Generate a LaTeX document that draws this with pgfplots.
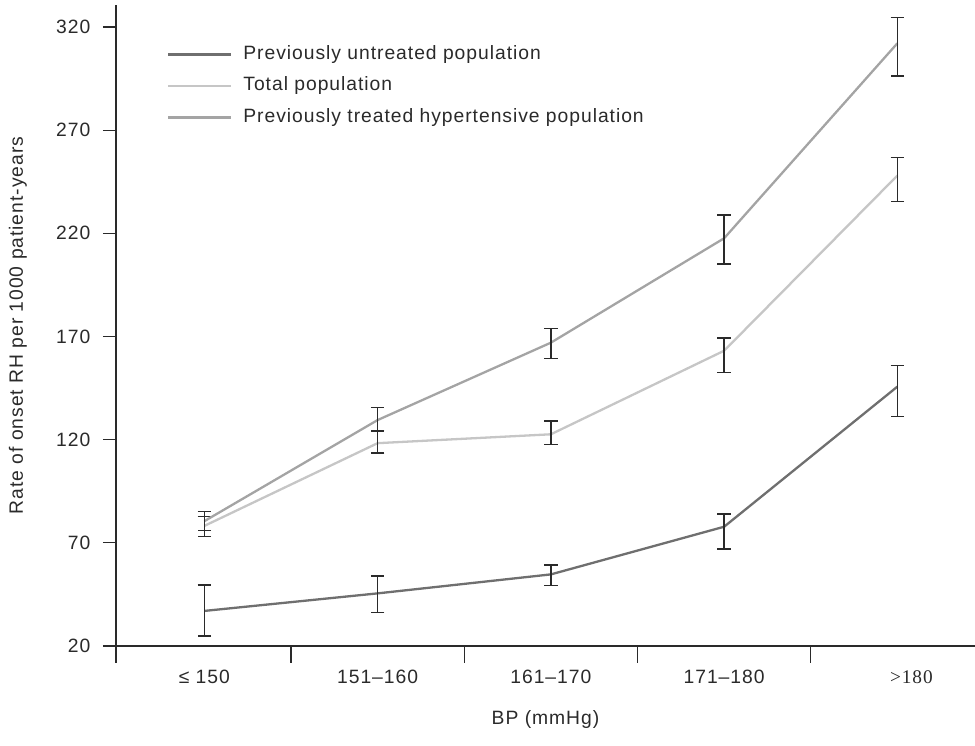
\documentclass[border=0pt]{standalone}
\usepackage{fontspec}
\setmainfont{Liberation Sans}[LetterSpace=5]
\newfontfamily\serifnum{Liberation Serif}[LetterSpace=5]
\usepackage{pgfplots}
\pgfplotsset{compat=1.18}
\usepackage{pgfplotstable}

\definecolor{untr}{HTML}{6F6F6F}
\definecolor{tot}{HTML}{C6C6C6}
\definecolor{trt}{HTML}{A4A4A4}
\definecolor{ink}{HTML}{2A2A2A}

\pgfplotstableread{
x y ep em
0 37.0 12.6 12.2
1 45.5 8.4 9.2
2 54.7 4.6 5.5
3 77.8 6.2 10.8
4 145.7 10.2 14.6
}\untreated

\pgfplotstableread{
x y ep em
0 78.2 4.5 5.2
1 118.3 5.5 4.7
2 122.6 6.5 4.8
3 163.1 6.1 10.6
4 248.0 8.7 12.6
}\total

\pgfplotstableread{
x y ep em
0 80.5 4.6 4.5
1 129.5 6.0 5.1
2 167.0 7.0 7.5
3 217.6 11.3 12.4
4 312.1 12.6 15.8
}\treated

\begin{document}
\fontsize{19.3}{23}\selectfont
\begin{tikzpicture}
\useasboundingbox (0,0) rectangle (975pt,746pt);
\begin{axis}[
  at={(116pt,100pt)}, anchor=south west,
  scale only axis, width=859pt, height=641pt,
  xmin=-0.51, xmax=4.448, ymin=20, ymax=330.66,
  axis x line=bottom, axis y line=left,
  axis line style={-, ink, line width=1.2pt},
  /pgf/number format/assume math mode=true,
  every tick label/.append style={text=ink},
  tick style={ink, line width=1.2pt},
  xtick={0,1,2,3,4},
  xticklabels={{≤ 150},{151–160},{161–170},{171–180},{\hspace*{28pt}\serifnum >180}},
  major x tick style={draw=none},
  minor xtick={-0.51,0.5,1.5,2.5,3.5},
  minor tick length=17pt,
  ytick={20,70,...,320},
  major tick length=13pt,
  tick align=outside,
  xticklabel style={anchor=base, yshift=-25pt},
  yticklabel style={anchor=east, xshift=-6pt},
  xlabel={BP (mmHg)},
  xlabel style={at={(rel axis cs:0.5,0)}, anchor=center, yshift=-74pt, text=ink},
  ylabel={Rate of onset RH per 1000 patient-years},
  ylabel style={at={(rel axis cs:0,0.5)}, anchor=center, yshift=98pt, text=ink},
  legend style={draw=none, fill=none, at={(rel axis cs:0.0594,0.9363)}, anchor=north west,
    inner sep=0pt, row sep=14.5pt, column sep=11pt,
    nodes={inner sep=0pt, text height=13pt, text depth=4pt, text=ink}},
  legend cell align=left,
  legend image code/.code={\draw[#1, line width=2.2pt] (0pt,0pt) -- (63pt,0pt);},
  error bars/error bar style={ink, line width=1.3pt},
  error bars/error mark options={rotate=90, ink, mark size=6.8pt, line width=1.3pt},
]
\addplot[untr, line width=2.3pt, mark=none, error bars/.cd, y dir=both, y explicit]
  table[x=x, y=y, y error plus=ep, y error minus=em] {\untreated};
\addlegendentry{Previously untreated population}
\addplot[tot, line width=2.3pt, mark=none, error bars/.cd, y dir=both, y explicit]
  table[x=x, y=y, y error plus=ep, y error minus=em] {\total};
\addlegendentry{Total population}
\addplot[trt, line width=2.3pt, mark=none, error bars/.cd, y dir=both, y explicit]
  table[x=x, y=y, y error plus=ep, y error minus=em] {\treated};
\addlegendentry{Previously treated hypertensive population}
\end{axis}
\end{tikzpicture}
\end{document}
